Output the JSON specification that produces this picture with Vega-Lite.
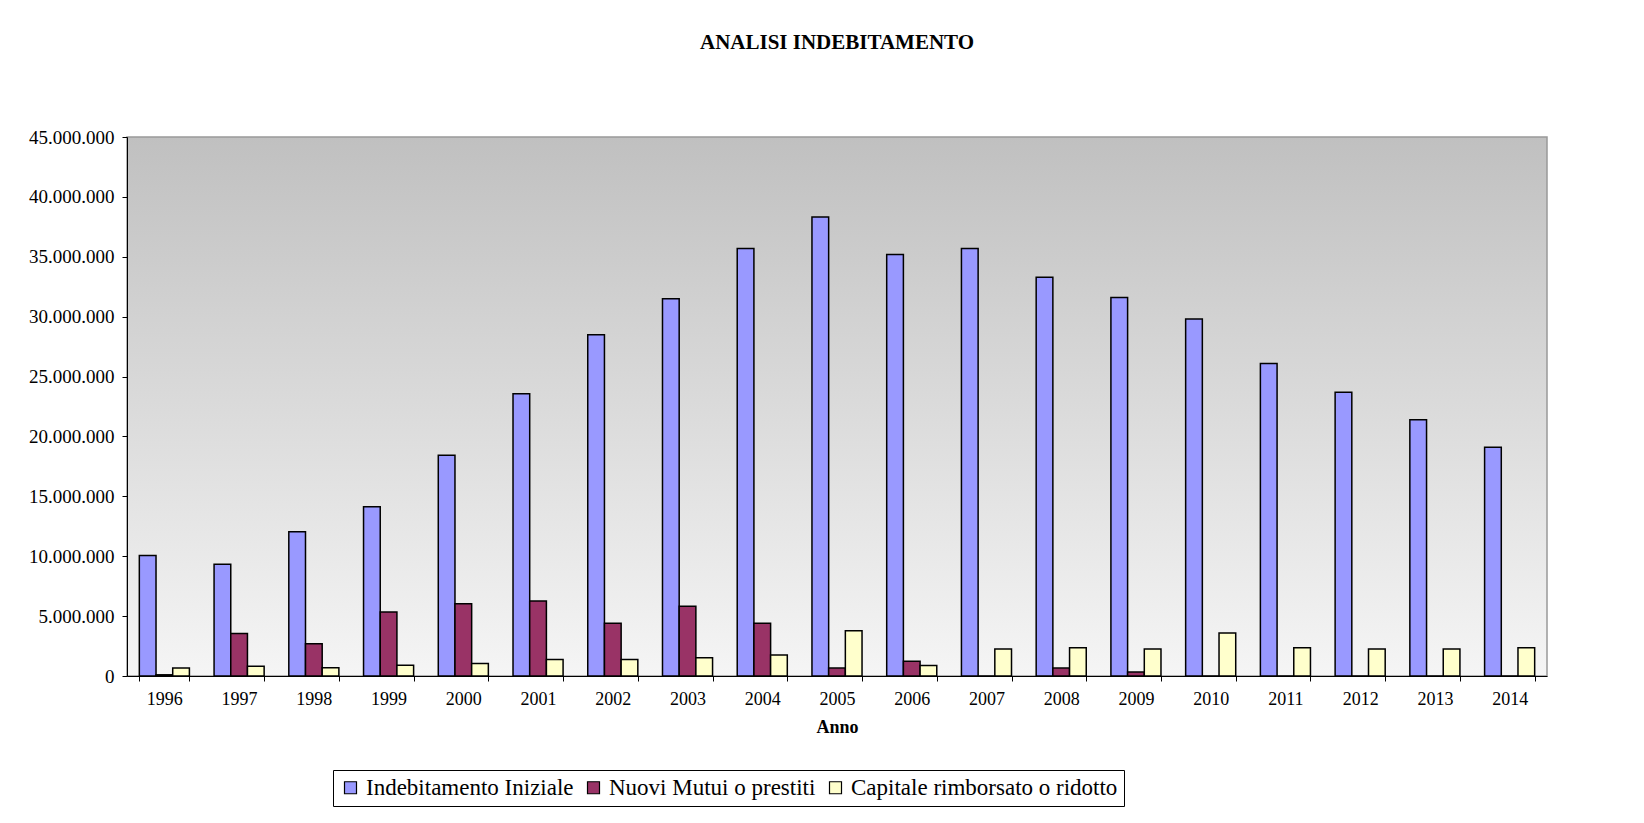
{
  "$schema": "https://vega.github.io/schema/vega-lite/v6.json",
  "autosize": "none",
  "width": 1420,
  "height": 539,
  "padding": {"left": 127, "top": 137, "right": 97, "bottom": 147},
  "background": "white",
  "title": {
    "text": "ANALISI INDEBITAMENTO",
    "font": "Liberation Serif",
    "fontSize": 21,
    "fontWeight": "bold",
    "color": "black",
    "anchor": "middle",
    "baseline": "alphabetic",
    "offset": 58
  },
  "view": {
    "fill": {
      "gradient": "linear",
      "x1": 0, "y1": 0, "x2": 0, "y2": 1,
      "stops": [
        {"offset": 0, "color": "#c0c0c0"},
        {"offset": 1, "color": "#f5f5f5"}
      ]
    },
    "stroke": "#999999",
    "strokeWidth": 1.5
  },
  "data": {
    "values": [
      {"Anno": "1996", "serie": "Indebitamento Iniziale", "valore": 10050000},
      {"Anno": "1996", "serie": "Nuovi Mutui o prestiti", "valore": 100000},
      {"Anno": "1996", "serie": "Capitale rimborsato o ridotto", "valore": 670000},
      {"Anno": "1997", "serie": "Indebitamento Iniziale", "valore": 9330000},
      {"Anno": "1997", "serie": "Nuovi Mutui o prestiti", "valore": 3540000},
      {"Anno": "1997", "serie": "Capitale rimborsato o ridotto", "valore": 810000},
      {"Anno": "1998", "serie": "Indebitamento Iniziale", "valore": 12050000},
      {"Anno": "1998", "serie": "Nuovi Mutui o prestiti", "valore": 2700000},
      {"Anno": "1998", "serie": "Capitale rimborsato o ridotto", "valore": 680000},
      {"Anno": "1999", "serie": "Indebitamento Iniziale", "valore": 14120000},
      {"Anno": "1999", "serie": "Nuovi Mutui o prestiti", "valore": 5340000},
      {"Anno": "1999", "serie": "Capitale rimborsato o ridotto", "valore": 900000},
      {"Anno": "2000", "serie": "Indebitamento Iniziale", "valore": 18420000},
      {"Anno": "2000", "serie": "Nuovi Mutui o prestiti", "valore": 6030000},
      {"Anno": "2000", "serie": "Capitale rimborsato o ridotto", "valore": 1050000},
      {"Anno": "2001", "serie": "Indebitamento Iniziale", "valore": 23570000},
      {"Anno": "2001", "serie": "Nuovi Mutui o prestiti", "valore": 6260000},
      {"Anno": "2001", "serie": "Capitale rimborsato o ridotto", "valore": 1380000},
      {"Anno": "2002", "serie": "Indebitamento Iniziale", "valore": 28480000},
      {"Anno": "2002", "serie": "Nuovi Mutui o prestiti", "valore": 4400000},
      {"Anno": "2002", "serie": "Capitale rimborsato o ridotto", "valore": 1380000},
      {"Anno": "2003", "serie": "Indebitamento Iniziale", "valore": 31500000},
      {"Anno": "2003", "serie": "Nuovi Mutui o prestiti", "valore": 5820000},
      {"Anno": "2003", "serie": "Capitale rimborsato o ridotto", "valore": 1520000},
      {"Anno": "2004", "serie": "Indebitamento Iniziale", "valore": 35700000},
      {"Anno": "2004", "serie": "Nuovi Mutui o prestiti", "valore": 4400000},
      {"Anno": "2004", "serie": "Capitale rimborsato o ridotto", "valore": 1760000},
      {"Anno": "2005", "serie": "Indebitamento Iniziale", "valore": 38330000},
      {"Anno": "2005", "serie": "Nuovi Mutui o prestiti", "valore": 660000},
      {"Anno": "2005", "serie": "Capitale rimborsato o ridotto", "valore": 3780000},
      {"Anno": "2006", "serie": "Indebitamento Iniziale", "valore": 35200000},
      {"Anno": "2006", "serie": "Nuovi Mutui o prestiti", "valore": 1230000},
      {"Anno": "2006", "serie": "Capitale rimborsato o ridotto", "valore": 870000},
      {"Anno": "2007", "serie": "Indebitamento Iniziale", "valore": 35700000},
      {"Anno": "2007", "serie": "Nuovi Mutui o prestiti", "valore": 0},
      {"Anno": "2007", "serie": "Capitale rimborsato o ridotto", "valore": 2250000},
      {"Anno": "2008", "serie": "Indebitamento Iniziale", "valore": 33300000},
      {"Anno": "2008", "serie": "Nuovi Mutui o prestiti", "valore": 660000},
      {"Anno": "2008", "serie": "Capitale rimborsato o ridotto", "valore": 2350000},
      {"Anno": "2009", "serie": "Indebitamento Iniziale", "valore": 31600000},
      {"Anno": "2009", "serie": "Nuovi Mutui o prestiti", "valore": 330000},
      {"Anno": "2009", "serie": "Capitale rimborsato o ridotto", "valore": 2250000},
      {"Anno": "2010", "serie": "Indebitamento Iniziale", "valore": 29800000},
      {"Anno": "2010", "serie": "Nuovi Mutui o prestiti", "valore": 0},
      {"Anno": "2010", "serie": "Capitale rimborsato o ridotto", "valore": 3600000},
      {"Anno": "2011", "serie": "Indebitamento Iniziale", "valore": 26100000},
      {"Anno": "2011", "serie": "Nuovi Mutui o prestiti", "valore": 0},
      {"Anno": "2011", "serie": "Capitale rimborsato o ridotto", "valore": 2350000},
      {"Anno": "2012", "serie": "Indebitamento Iniziale", "valore": 23700000},
      {"Anno": "2012", "serie": "Nuovi Mutui o prestiti", "valore": 0},
      {"Anno": "2012", "serie": "Capitale rimborsato o ridotto", "valore": 2250000},
      {"Anno": "2013", "serie": "Indebitamento Iniziale", "valore": 21400000},
      {"Anno": "2013", "serie": "Nuovi Mutui o prestiti", "valore": 0},
      {"Anno": "2013", "serie": "Capitale rimborsato o ridotto", "valore": 2250000},
      {"Anno": "2014", "serie": "Indebitamento Iniziale", "valore": 19100000},
      {"Anno": "2014", "serie": "Nuovi Mutui o prestiti", "valore": 0},
      {"Anno": "2014", "serie": "Capitale rimborsato o ridotto", "valore": 2350000}
    ]
  },
  "mark": {"type": "bar", "stroke": "black", "strokeWidth": 1.5, "strokeJoin": "miter"},
  "encoding": {
    "x": {
      "field": "Anno",
      "type": "ordinal",
      "scale": {"paddingInner": 0.33, "paddingOuter": 0.165},
      "axis": {
        "title": "Anno",
        "labelAngle": 0,
        "labelFontSize": 18,
        "tickBand": "extent",
        "tickSize": 5,
        "labelPadding": 9,
        "titlePadding": 10,
        "titleFont": "Liberation Serif",
        "titleFontSize": 18,
        "titleFontWeight": "bold",
        "titleColor": "black"
      }
    },
    "xOffset": {
      "field": "serie",
      "type": "nominal",
      "sort": ["Indebitamento Iniziale", "Nuovi Mutui o prestiti", "Capitale rimborsato o ridotto"],
      "scale": {"domain": ["Indebitamento Iniziale", "Nuovi Mutui o prestiti", "Capitale rimborsato o ridotto"], "paddingInner": 0, "paddingOuter": 0}
    },
    "y": {
      "field": "valore",
      "type": "quantitative",
      "scale": {"domain": [0, 45000000], "nice": false},
      "axis": {
        "title": null,
        "values": [0, 5000000, 10000000, 15000000, 20000000, 25000000, 30000000, 35000000, 40000000, 45000000],
        "format": ",d",
        "grid": false,
        "labelFontSize": 19,
        "tickSize": 5,
        "labelPadding": 8
      }
    },
    "color": {
      "field": "serie",
      "type": "nominal",
      "scale": {
        "domain": ["Indebitamento Iniziale", "Nuovi Mutui o prestiti", "Capitale rimborsato o ridotto"],
        "range": ["#9999ff", "#993366", "#ffffcc"]
      },
      "legend": {
        "title": null,
        "orient": "none",
        "direction": "horizontal",
        "legendX": 206,
        "legendY": 633,
        "symbolType": "square",
        "symbolSize": 144,
        "symbolStrokeColor": "black",
        "symbolStrokeWidth": 1.2,
        "symbolOpacity": 1,
        "labelFont": "Liberation Serif",
        "labelFontSize": 23,
        "labelColor": "black",
        "labelOffset": 4,
        "labelLimit": 0,
        "columnPadding": 8,
        "padding": 6,
        "strokeColor": "black",
        "fillColor": "white"
      }
    }
  },
  "config": {
    "locale": {
      "number": {"decimal": ",", "thousands": ".", "grouping": [3], "currency": ["", " €"]}
    },
    "axis": {
      "labelFont": "Liberation Serif",
      "labelFontSize": 17,
      "labelColor": "black",
      "domainColor": "black",
      "domainWidth": 1,
      "tickColor": "black",
      "tickWidth": 1,
      "grid": false
    },
    "legend": {
      "labelFont": "Liberation Serif"
    }
  }
}
